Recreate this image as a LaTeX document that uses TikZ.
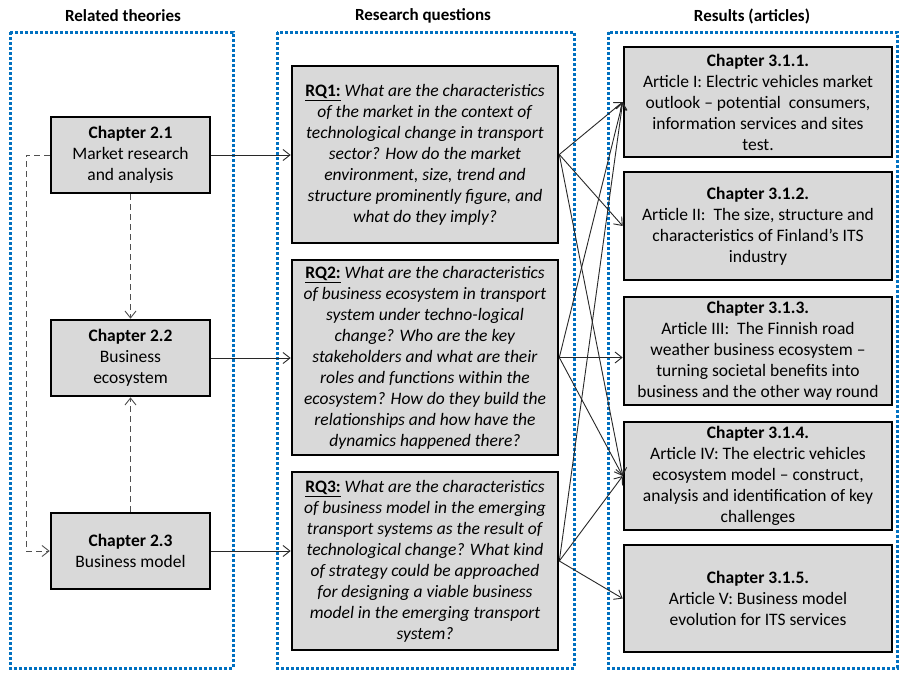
\documentclass[tikz,border=0pt]{standalone}
\usepackage{fontspec}
\setmainfont{Carlito}
\usetikzlibrary{arrows.meta}
\definecolor{boxgray}{RGB}{217,217,217}
\definecolor{frameblue}{RGB}{0,112,192}
\definecolor{linegray}{RGB}{40,40,40}
\definecolor{dashgray}{RGB}{80,80,80}
\begin{document}
\begin{tikzpicture}[x=1pt,y=-1pt,
  gbox/.style={draw=black, line width=2.6pt, fill=boxgray, align=center, inner sep=0pt,
    font=\fontsize{17.5}{21}\selectfont},
  frame/.style={draw=frameblue, line width=3pt, dash pattern=on 3pt off 2pt},
  hdr/.style={font=\fontsize{17}{19}\selectfont\bfseries, inner sep=0pt},
  conn/.style={draw=linegray, line width=0.9pt, -{Straight Barb[length=7pt,width=11pt]}},
  dconn/.style={draw=dashgray, line width=0.9pt, dash pattern=on 6pt off 4pt, -{Straight Barb[length=7pt,width=11pt]}},
  dline/.style={draw=dashgray, line width=0.9pt, dash pattern=on 6pt off 4pt}
]
\useasboundingbox (0,0) rectangle (901,672);
\fill[white] (0,0) rectangle (901,672);

% frames
\draw[frame] (10,32) rectangle (233,668);
\draw[frame] (277,32) rectangle (574,668);
\draw[frame] (608,32) rectangle (897,668);

% headers
\node[hdr] (h1) at (123,16) {Related theories};
\node[hdr] (h2) at (423,16) {Research questions};
\node[hdr] (h3) at (752,16) {Results (articles)};

% left column
\node[gbox, minimum width=159pt, minimum height=76pt] (c21) at (130.5,155) {\textbf{Chapter 2.1}\\Market research\\and analysis};
\node[gbox, minimum width=159pt, minimum height=76pt] (c22) at (130.5,358) {\textbf{Chapter 2.2}\\Business\\ecosystem};
\node[gbox, minimum width=159pt, minimum height=76pt] (c23) at (130.5,551) {\textbf{Chapter 2.3}\\Business model};

% research questions
\node[gbox, minimum width=266pt, minimum height=177pt] (rq1) at (425,154.5) {\textbf{\underline{RQ1:}} \textit{What are the characteristics}\\
\textit{of the market in the context of}\\
\textit{technological change in transport}\\
\textit{sector? How do the market}\\
\textit{environment, size, trend and}\\
\textit{structure prominently figure, and}\\
\textit{what do they imply?}};
\node[gbox, minimum width=266pt, minimum height=195pt] (rq2) at (425,357.5) {\textbf{\underline{RQ2:}} \textit{What are the characteristics}\\
\textit{of business ecosystem in transport}\\
\textit{system under techno-logical}\\
\textit{change? Who are the key}\\
\textit{stakeholders and what are their}\\
\textit{roles and functions within the}\\
\textit{ecosystem? How do they build the}\\
\textit{relationships and how have the}\\
\textit{dynamics happened there?}};
\node[gbox, minimum width=266pt, minimum height=178pt] (rq3) at (425,561) {\textbf{\underline{RQ3:}} \textit{What are the characteristics}\\
\textit{of business model in the emerging}\\
\textit{transport systems as the result of}\\
\textit{technological change? What kind}\\
\textit{of strategy could be approached}\\
\textit{for designing a viable business}\\
\textit{model in the emerging transport}\\
\textit{system?}};

% articles
\node[gbox, minimum width=268pt, minimum height=110pt] (a1) at (758,102) {\textbf{Chapter 3.1.1.}\\Article I: Electric vehicles market\\outlook -- potential\ \ consumers,\\information services and sites\\test.};
\node[gbox, minimum width=268pt, minimum height=108pt] (a2) at (758,226) {\textbf{Chapter 3.1.2.}\\Article II:\ \ The size, structure and\\characteristics of Finland’s ITS\\industry};
\node[gbox, minimum width=268pt, minimum height=108pt] (a3) at (758,351) {\textbf{Chapter 3.1.3.}\\Article III:\ \ The Finnish road\\weather business ecosystem --\\turning societal benefits into\\business and the other way round};
\node[gbox, minimum width=268pt, minimum height=108pt] (a4) at (758,476) {\textbf{Chapter 3.1.4.}\\Article IV: The electric vehicles\\ecosystem model -- construct,\\analysis and identification of key\\challenges};
\node[gbox, minimum width=268pt, minimum height=107pt] (a5) at (758,598.5) {\textbf{Chapter 3.1.5.}\\Article V: Business model\\evolution for ITS services};

% left dashed connectors
\coordinate (dl1) at (26,155);
\coordinate (dl2) at (26,551);
\draw[dline] (c21.west) -- (dl1) -- (dl2);
\draw[dconn] (dl2) -- (c23.west);
\draw[dconn] (c21.south) -- (c22.north);
\draw[dconn] (c23.north) -- (c22.south);

% theory -> RQ
\draw[conn] (c21.east) -- (c21.east -| rq1.west);
\draw[conn] (c22.east) -- (c22.east -| rq2.west);
\draw[conn] (c23.east) -- (c23.east -| rq3.west);

% RQ -> articles
\draw[conn] (rq1.east) -- (a1.west);
\draw[conn] (rq1.east) -- (a2.west);
\draw[conn] (rq1.east) -- (a4.west);
\draw[conn] (rq2.east) -- (a1.west);
\draw[conn] (rq2.east) -- (rq2.east -| a3.west);
\draw[conn] (rq2.east) -- (a4.west);
\draw[conn] (rq3.east) -- (a1.west);
\draw[conn] (rq3.east) -- (a4.west);
\draw[conn] (rq3.east) -- (a5.west);
\end{tikzpicture}
\end{document}
